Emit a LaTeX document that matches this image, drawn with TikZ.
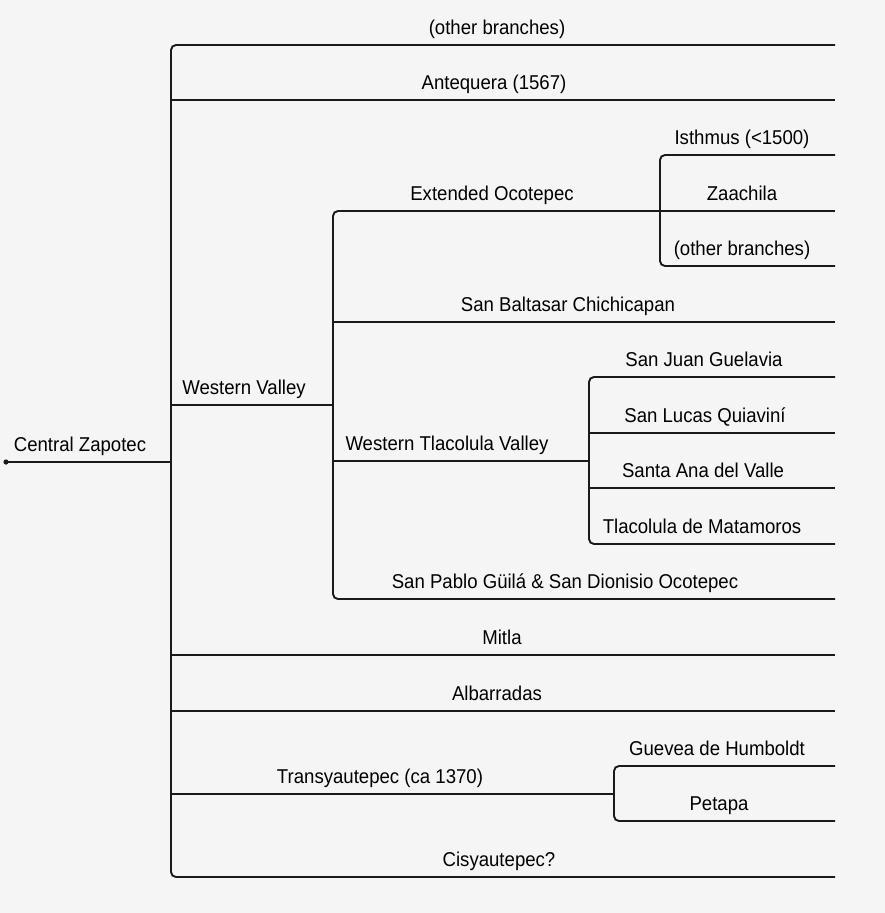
\documentclass[tikz,border=0pt]{standalone}
\usepackage{fontspec}
\setmainfont{Liberation Sans}[FakeStretch=0.93]
\definecolor{bg}{HTML}{F5F5F5}
\definecolor{ink}{HTML}{1A1A1A}
\tikzset{
  lbl/.style={anchor=base, inner sep=0pt, text=black, font=\fontsize{20}{24}\selectfont},
  edge/.style={draw=ink, line width=1.9pt, rounded corners=5pt},
}
\begin{document}
\begin{tikzpicture}[x=1pt,y=-1pt]
\fill[bg] (0,0) rectangle (885,913);
\useasboundingbox (0,0) rectangle (885,913);
% coordinates
\coordinate (root) at (6,462);
\coordinate (cz) at (171,462);
\coordinate (t1) at (171,45);  \coordinate (e1) at (835,45);
\coordinate (a1) at (171,100); \coordinate (ea) at (835,100);
\coordinate (wv0) at (171,405); \coordinate (wv) at (333,405);
\coordinate (mi0) at (171,655); \coordinate (emi) at (835,655);
\coordinate (al0) at (171,711); \coordinate (eal) at (835,711);
\coordinate (tr0) at (171,794); \coordinate (tr) at (614,794);
\coordinate (b1) at (171,877); \coordinate (ecs) at (835,877);
% western valley
\coordinate (eo0) at (333,211); \coordinate (eo) at (660,211);
\coordinate (sb0) at (333,322); \coordinate (esb) at (835,322);
\coordinate (wt0) at (333,461); \coordinate (wt) at (589,461);
\coordinate (sp0) at (333,599); \coordinate (esp) at (835,599);
% extended ocotepec
\coordinate (is0) at (660,155); \coordinate (eis) at (835,155);
\coordinate (za0) at (660,211); \coordinate (eza) at (835,211);
\coordinate (ob0) at (660,266); \coordinate (eob) at (835,266);
% western tlacolula
\coordinate (sj0) at (589,377); \coordinate (esj) at (835,377);
\coordinate (sl0) at (589,433); \coordinate (esl) at (835,433);
\coordinate (sa0) at (589,488); \coordinate (esa) at (835,488);
\coordinate (tm0) at (589,544); \coordinate (etm) at (835,544);
% transyautepec
\coordinate (gh0) at (614,766); \coordinate (egh) at (835,766);
\coordinate (pe0) at (614,821); \coordinate (epe) at (835,821);

% connectors
\fill[ink] (root) circle (2.6pt);
\draw[edge] (root) -- (cz);
\draw[edge] (e1) -- (t1) -- (b1) -- (ecs);
\draw[edge] (a1) -- (ea);
\draw[edge] (wv0) -- (wv);
\draw[edge] (mi0) -- (emi);
\draw[edge] (al0) -- (eal);
\draw[edge] (tr0) -- (tr);
\draw[edge] (eo) -- (eo0) -- (sp0) -- (esp);
\draw[edge] (sb0) -- (esb);
\draw[edge] (wt0) -- (wt);
\draw[edge] (eis) -- (is0) -- (ob0) -- (eob);
\draw[edge] (za0) -- (eza);
\draw[edge] (esj) -- (sj0) -- (tm0) -- (etm);
\draw[edge] (sl0) -- (esl);
\draw[edge] (sa0) -- (esa);
\draw[edge] (egh) -- (gh0) -- (pe0) -- (epe);

% labels
\node[lbl] (Lcz) at (80,451) {Central Zapotec};
\node[lbl] (Lob1) at (497,34.5) {(other branches)};
\node[lbl] (Lan) at (494,89.5) {Antequera (1567)};
\node[lbl] (Lwv) at (244,394.5) {Western Valley};
\node[lbl] (Leo) at (492,200.5) {Extended Ocotepec};
\node[lbl] (Lis) at (742,144.5) {Isthmus (<1500)};
\node[lbl] (Lza) at (742,200.5) {Zaachila};
\node[lbl] (Lob2) at (742,255.5) {(other branches)};
\node[lbl] (Lsb) at (568,311.5) {San Baltasar Chichicapan};
\node[lbl] (Lwt) at (447,450.5) {Western Tlacolula Valley};
\node[lbl] (Lsj) at (704,366.5) {San Juan Guelavia};
\node[lbl] (Lsl) at (705,422.5) {San Lucas Quiaviní};
\node[lbl] (Lsa) at (703,477.5) {Santa Ana del Valle};
\node[lbl] (Ltm) at (702,533.5) {Tlacolula de Matamoros};
\node[lbl] (Lsp) at (565,588.5) {San Pablo Güilá \& San Dionisio Ocotepec};
\node[lbl] (Lmi) at (502,644.5) {Mitla};
\node[lbl] (Lal) at (497,700.5) {Albarradas};
\node[lbl] (Ltr) at (380,783.5) {Transyautepec (ca 1370)};
\node[lbl] (Lgh) at (717,755.5) {Guevea de Humboldt};
\node[lbl] (Lpe) at (719,810.5) {Petapa};
\node[lbl] (Lcs) at (499,866.5) {Cisyautepec?};
\end{tikzpicture}
\end{document}
